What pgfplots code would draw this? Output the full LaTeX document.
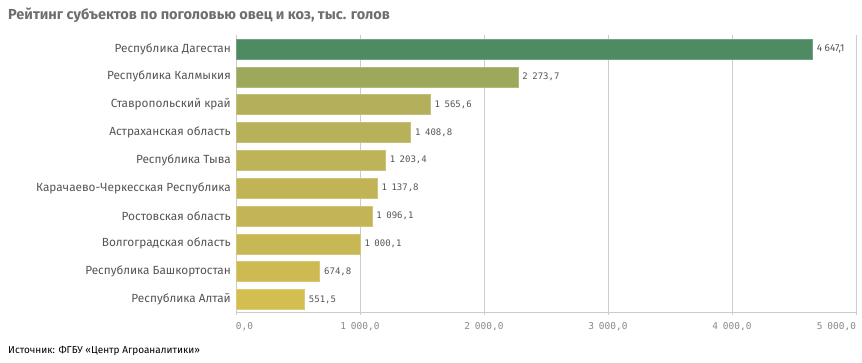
\documentclass[border=0pt]{standalone}
\usepackage{fontspec}
\setmainfont{Fira Sans}
\newfontfamily\monofont{DejaVu Sans Mono}
\usepackage{pgfplots}
\pgfplotsset{compat=1.18}
\definecolor{titlegray}{HTML}{6E6E6E}
\definecolor{labgray}{HTML}{555555}
\definecolor{tickgray}{HTML}{8A8A8A}
\definecolor{gridgray}{HTML}{CCCCCC}
\definecolor{c0}{HTML}{D4BD51}
\definecolor{c1}{HTML}{CEBA53}
\definecolor{c2}{HTML}{C7B755}
\definecolor{c3}{HTML}{C3B556}
\definecolor{c4}{HTML}{C0B457}
\definecolor{c5}{HTML}{BDB358}
\definecolor{c6}{HTML}{B7B159}
\definecolor{c7}{HTML}{B3AF5A}
\definecolor{c8}{HTML}{9DA85B}
\definecolor{c9}{HTML}{4E8B63}
\begin{document}
\begin{tikzpicture}[x=1pt,y=1pt]
\useasboundingbox (0,0) rectangle (862,362);
\fill[white] (0,0) rectangle (862,362);
\node[anchor=base west, inner sep=0, text=titlegray, font=\fontsize{14.5}{17}\selectfont\bfseries] at (8,342) {Рейтинг субъектов по поголовью овец и коз, тыс. голов};
\node[anchor=base west, inner sep=0, text=black, font=\fontsize{10}{12}\selectfont] at (8,9) {Источник: ФГБУ «Центр Агроаналитики»};
\begin{axis}[
  at={(236pt,50pt)}, anchor=south west,
  width=620pt, height=277pt, scale only axis,
  xmin=0, xmax=5000, ymin=-0.45, ymax=9.5,
  xbar, bar shift=0pt, bar width=20pt,
  separate axis lines,
  axis x line*=bottom,
  x axis line style={draw=gridgray, line width=0.8pt, -},
  y axis line style={draw=none},
  ytick={0,...,9},
  yticklabels={Республика Алтай, Республика Башкортостан, Волгоградская область, Ростовская область, Карачаево-Черкесская Республика, Республика Тыва, Астраханская область, Ставропольский край, Республика Калмыкия, Республика Дагестан},
  ytick style={draw=none},
  yticklabel style={font=\fontsize{11.8}{14}\selectfont, text=labgray, inner sep=0pt, xshift=-2pt},
  xtick={0,1000,...,5000},
  xticklabels={{\rlap{0,0}}, {1\hspace{0.5em}000,0}, {2\hspace{0.5em}000,0}, {3\hspace{0.5em}000,0}, {4\hspace{0.5em}000,0}, {\llap{5\hspace{0.5em}000,0}}},
  xtick style={draw=gridgray},
  tick align=outside, major tick length=3pt,
  xmajorgrids, grid style={draw=gridgray, line width=0.8pt},
  xticklabel style={font=\monofont\fontsize{9.5}{11}\selectfont, text=tickgray, yshift=-4pt},
  /pgf/number format/assume math mode=true,
  point meta=x,
  nodes near coords={\pgfmathprintnumber[fixed, precision=1, zerofill, use comma, 1000 sep={\hspace{0.5em}}]{\pgfplotspointmeta}},
  every node near coord/.append style={font=\monofont\fontsize{9}{11}\selectfont, text=labgray, anchor=west, xshift=1pt},
  clip=false,
]
\addplot[fill=c0, draw=c0!80!white] coordinates {(551.5,0)};
\addplot[fill=c1, draw=c1!80!white] coordinates {(674.8,1)};
\addplot[fill=c2, draw=c2!80!white] coordinates {(1000.1,2)};
\addplot[fill=c3, draw=c3!80!white] coordinates {(1096.1,3)};
\addplot[fill=c4, draw=c4!80!white] coordinates {(1137.8,4)};
\addplot[fill=c5, draw=c5!80!white] coordinates {(1203.4,5)};
\addplot[fill=c6, draw=c6!80!white] coordinates {(1408.8,6)};
\addplot[fill=c7, draw=c7!80!white] coordinates {(1565.6,7)};
\addplot[fill=c8, draw=c8!80!white] coordinates {(2273.7,8)};
\addplot[fill=c9, draw=c9!80!white,
  nodes near coords={\pgfmathprintnumber[fixed, precision=1, zerofill, use comma, 1000 sep={\ }]{\pgfplotspointmeta}},
  every node near coord/.append style={font=\fontsize{10}{12}\selectfont}] coordinates {(4647.1,9)};
\end{axis}
\end{tikzpicture}
\end{document}
